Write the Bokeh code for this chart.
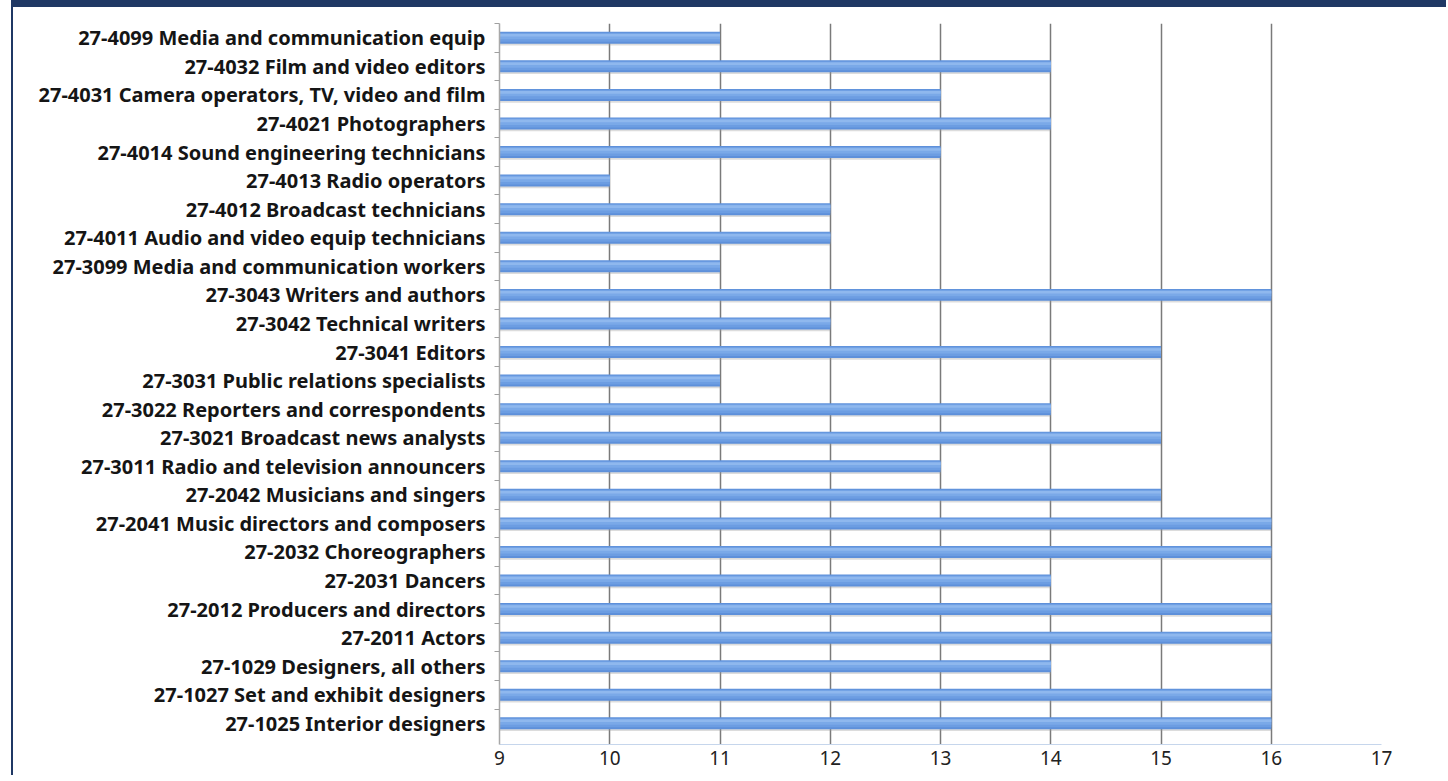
from bokeh.plotting import figure
from bokeh.models import Range1d, FixedTicker
from bokeh.embed import file_html
from bokeh.resources import INLINE

# Occupation categories, listed top to bottom
categories = [
    "27-4099 Media and communication equip",
    "27-4032 Film and video editors",
    "27-4031 Camera operators, TV, video and film",
    "27-4021 Photographers",
    "27-4014 Sound engineering technicians",
    "27-4013 Radio operators",
    "27-4012 Broadcast technicians",
    "27-4011 Audio and video equip technicians",
    "27-3099 Media and communication workers",
    "27-3043 Writers and authors",
    "27-3042 Technical writers",
    "27-3041 Editors",
    "27-3031 Public relations specialists",
    "27-3022 Reporters and correspondents",
    "27-3021 Broadcast news analysts",
    "27-3011 Radio and television announcers",
    "27-2042 Musicians and singers",
    "27-2041 Music directors and composers",
    "27-2032 Choreographers",
    "27-2031 Dancers",
    "27-2012 Producers and directors",
    "27-2011 Actors",
    "27-1029 Designers, all others",
    "27-1027 Set and exhibit designers",
    "27-1025 Interior designers",
]

values = [11, 14, 13, 14, 13, 10, 12, 12, 11, 16, 12, 15, 11,
          14, 15, 13, 15, 16, 16, 14, 16, 16, 14, 16, 16]

x_ticks = [9, 10, 11, 12, 13, 14, 15, 16, 17]
x_start, x_end = 9, 17

n = len(categories)
pos = list(range(n))

p = figure(
    width=1435, height=775,
    output_backend="svg", toolbar_location=None,
    x_range=Range1d(x_start, x_end),
    y_range=Range1d(n - 0.5 + 0.24, -0.5),
    min_border_left=486, min_border_right=67,
    min_border_top=16, min_border_bottom=38,
)
p.styles = {
    "border-top": "7px solid #1F3864",
    "border-left": "2px solid #1F3864",
    "margin-left": "11px",
}
p.outline_line_color = None
p.background_fill_color = "white"
p.border_fill_color = "white"

# vertical grid lines
p.xgrid.ticker = FixedTicker(ticks=x_ticks[1:])
p.xgrid.grid_line_color = "#7a7a7a"
p.xgrid.grid_line_width = 1.5
p.ygrid.grid_line_color = None

# bars: soft drop shadow, body and lighter layers for a rounded look
shadow = [v + 0.08 for v in pos]
p.hbar(y=shadow, left=x_start, right=values, height=0.38,
       fill_color="#9a9a9a", fill_alpha=0.35, line_color=None)
p.hbar(y=pos, left=x_start, right=values, height=0.42,
       fill_color="#5e90da", line_color=None)
mid = [v - 0.02 for v in pos]
p.hbar(y=mid, left=x_start, right=values, height=0.32,
       fill_color="#6c9de2", line_color=None)
upper = [v - 0.05 for v in pos]
p.hbar(y=upper, left=x_start, right=values, height=0.20,
       fill_color="#7aa9e8", line_color=None)
hi = [v - 0.09 for v in pos]
p.hbar(y=hi, left=x_start, right=values, height=0.09,
       fill_color="#8fb8ee", line_color=None)

# category axis
yt = FixedTicker(ticks=pos, minor_ticks=[v + 0.5 for v in pos[:-1]] + [-0.5])
p.yaxis.ticker = yt
p.yaxis.major_label_overrides = {i: c for i, c in enumerate(categories)}
p.yaxis.major_tick_line_color = None
p.yaxis.major_tick_out = 0
p.yaxis.major_tick_in = 0
p.yaxis.minor_tick_out = 5
p.yaxis.minor_tick_in = 0
p.yaxis.minor_tick_line_color = "#a0a0a0"
p.yaxis.axis_line_color = "#a8a8a8"
p.yaxis.axis_line_width = 1.5
p.yaxis.major_label_standoff = 9
p.yaxis.major_label_text_font = "Noto Sans"
p.yaxis.major_label_text_font_style = "bold"
p.yaxis.major_label_text_font_size = "20px"
p.yaxis.major_label_text_color = "#151515"

# value axis
p.xaxis.ticker = FixedTicker(ticks=x_ticks)
p.xaxis.major_tick_line_color = None
p.xaxis.minor_tick_line_color = None
p.xaxis.major_tick_out = 0
p.xaxis.axis_line_color = "#c6d6ec"
p.xaxis.major_label_standoff = 6
p.xaxis.major_label_text_font = "Noto Sans"
p.xaxis.major_label_text_font_size = "19px"
p.xaxis.major_label_text_color = "#222222"

open("out.html", "w").write(file_html(p, INLINE))
